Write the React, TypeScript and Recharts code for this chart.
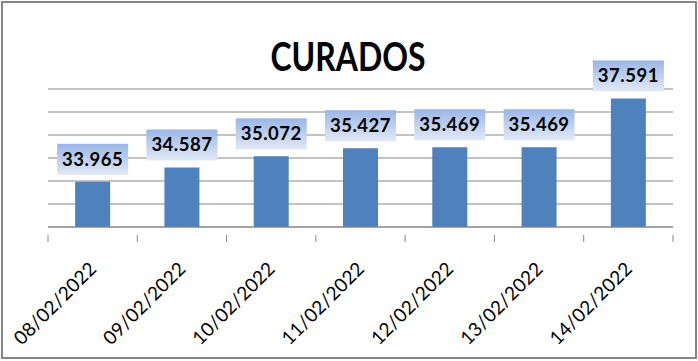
import React from 'react';
import { BarChart, Bar, XAxis, YAxis, CartesianGrid, LabelList, Customized } from 'recharts';

const categories = ['08/02/2022', '09/02/2022', '10/02/2022', '11/02/2022', '12/02/2022', '13/02/2022', '14/02/2022'];
const curados = [33965, 34587, 35072, 35427, 35469, 35469, 37591];
const yTicks = [32000, 33000, 34000, 35000, 36000, 37000, 38000];
const title = 'CURADOS';

const data = categories.map((c, i) => ({ date: c, curados: curados[i] }));

const fmt = (v: number) => v.toLocaleString('de-DE');

const FONT = 'Lato, "Open Sans", sans-serif';

const ValueLabel = (props: any) => {
  const { x, y, width, value } = props;
  const cx = x + width / 2;
  const bw = 71;
  const bh = 31;
  const bottom = y - 7;
  return (
    <g>
      <rect x={cx - bw / 2} y={bottom - bh} width={bw} height={bh} fill="url(#lblGrad)" />
      <text x={cx} y={bottom - bh / 2 + 6.5} textAnchor="middle" fontFamily={FONT} fontWeight={700} fontSize={18.5} letterSpacing={0.5} fill="#000">
        {fmt(value)}
      </text>
    </g>
  );
};

const DateTick = (props: any) => {
  const { x, y, payload, index } = props;
  const half = payload && typeof payload.offset === 'number' && payload.offset > 0 ? payload.offset : 625 / 7 / 2;
  const ex = x + 5;
  const ey = y + 35;
  return (
    <g>
      <line x1={x - half} y1={y} x2={x - half} y2={y + 7} stroke="#868686" strokeWidth={1} />
      {index === categories.length - 1 && (
        <line x1={x + half} y1={y} x2={x + half} y2={y + 7} stroke="#868686" strokeWidth={1} />
      )}
      <text x={ex} y={ey} transform={`rotate(-45, ${ex}, ${ey})`} textAnchor="end" fontFamily={FONT} fontSize={19} letterSpacing={0.2} fill="#000">
        {payload.value}
      </text>
    </g>
  );
};

const Title = () => (
  <g>
    <defs>
      <linearGradient id="lblGrad" x1="0" y1="0" x2="0" y2="1">
        <stop offset="0%" stopColor="#9ab6e6" />
        <stop offset="100%" stopColor="#e2e9f7" />
      </linearGradient>
    </defs>
    <text x={348} y={71} textAnchor="middle" fontFamily={FONT} fontWeight={700} fontSize={40} fill="#000" textLength={155} lengthAdjust="spacingAndGlyphs">
      {title}
    </text>
  </g>
);

export default function App() {
  return (
    <div style={{ position: 'fixed', left: 0, top: 0, width: 698, height: 361, background: '#fff' }}>
      <div style={{ position: 'absolute', left: 1, top: 1, width: 692, height: 354, border: '2.5px solid #868686', pointerEvents: 'none', zIndex: 2 }} />
      <BarChart width={698} height={361} data={data} margin={{ top: 89, right: 25, left: 48, bottom: 0 }} barCategoryGap="30.4%">
        <Customized component={Title} />
        <CartesianGrid horizontal vertical={false} stroke="#868686" strokeWidth={1} />
        <YAxis hide domain={[32000, 38000]} ticks={yTicks} type="number" allowDataOverflow />
        <XAxis dataKey="date" height={134} tickLine={false} axisLine={{ stroke: '#868686', strokeWidth: 1 }} tick={<DateTick />} interval={0} />
        <Bar dataKey="curados" fill="#4f81bd" isAnimationActive={false}>
          <LabelList dataKey="curados" content={<ValueLabel />} />
        </Bar>
      </BarChart>
    </div>
  );
}
